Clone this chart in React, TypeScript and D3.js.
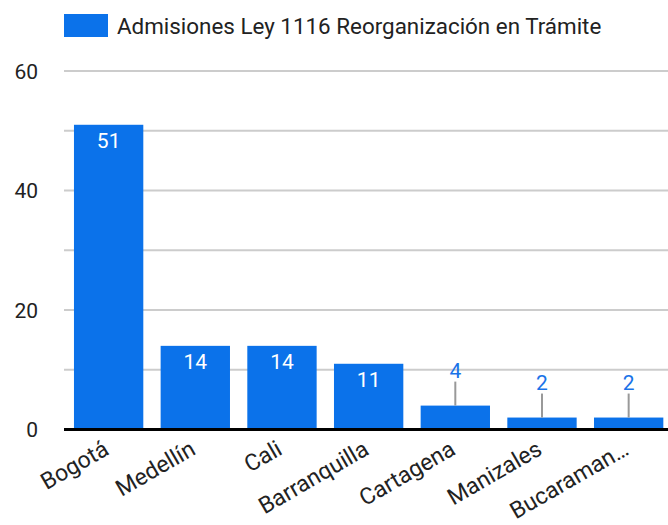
import React from "react";
import * as d3 from "d3";

const categories = ["Bogotá", "Medellín", "Cali", "Barranquilla", "Cartagena", "Manizales", "Bucaraman…"];
const values = [51, 14, 14, 11, 4, 2, 2];
const yTicks = [0, 20, 40, 60];
const gridTicks = [0, 10, 20, 30, 40, 50, 60];
const seriesName = "Admisiones Ley 1116 Reorganización en Trámite";

const W = 668;
const H = 525;
const BLUE = "#0b72ea";
const FONT = "Roboto, 'Noto Sans', sans-serif";

export default function App() {
  const x = d3.scaleBand<string>().domain(categories).range([65.3, 672]).paddingInner(0.2).paddingOuter(0.1);
  const y = d3.scaleLinear().domain([0, 60]).range([429.5, 71]);
  const bw = x.bandwidth();

  return (
    <svg width={W} height={H} style={{ position: "absolute", left: 0, top: 0, background: "#fff" }} fontFamily={FONT}>
      <rect x={0} y={0} width={W} height={H} fill="#fff" />
      {/* legend */}
      <rect x={64} y={14} width={44} height={23} fill={BLUE} />
      <text x={117} y={33.5} fontSize={22.4} fill="#222">{seriesName}</text>
      {/* grid */}
      {gridTicks.filter((t) => t !== 0).map((t) => (
        <line key={t} x1={64} x2={W} y1={y(t)} y2={y(t)} stroke="#cccccc" strokeWidth={2} />
      ))}
      {yTicks.map((t) => (
        <text key={t} x={38} y={y(t) + 7.5} fontSize={21} textAnchor="end" fill="#222">{t}</text>
      ))}
      {/* bars */}
      {categories.map((c, i) => {
        const v = values[i];
        const bx = x(c)!;
        const top = y(v);
        const cx = bx + bw / 2;
        const inside = y(0) - top > 30;
        return (
          <g key={c}>
            <rect x={bx} y={top} width={bw} height={y(0) - top} fill={BLUE} />
            {inside ? (
              <text x={cx} y={top + 23} fontSize={21} fill="#fff" textAnchor="middle">{v}</text>
            ) : (
              <g>
                <line x1={cx} x2={cx} y1={top} y2={top - 24} stroke="#999" strokeWidth={2} />
                <text x={cx} y={top - 28} fontSize={21} fill="#1a73e8" textAnchor="middle">{v}</text>
              </g>
            )}
          </g>
        );
      })}
      {/* baseline */}
      <line x1={64} x2={W} y1={y(0)} y2={y(0)} stroke="#000" strokeWidth={3} />
      {/* x labels */}
      {categories.map((c) => {
        const cx = x(c)! + bw / 2;
        return (
          <text key={c} transform={`translate(${cx - 7},${y(0) + 9}) rotate(-30)`} fontSize={23} textAnchor="end" dy="0.75em" fill="#222">{c}</text>
        );
      })}
    </svg>
  );
}
